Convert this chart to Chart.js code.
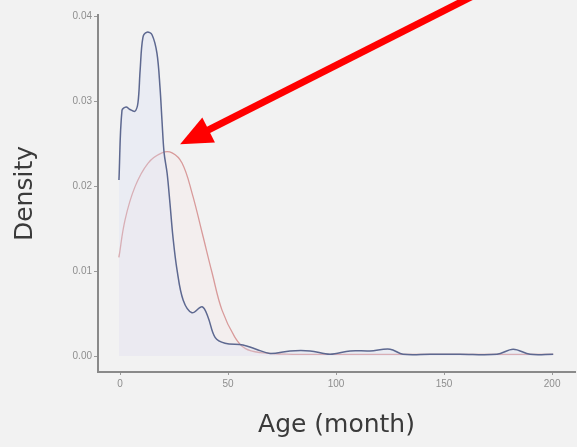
<!DOCTYPE html>
<html>
<head>
<meta charset="utf-8">
<script src="https://cdn.jsdelivr.net/npm/chart.js@4.4.0/dist/chart.umd.min.js"></script>
<style>
  html, body { margin: 0; padding: 0; background: #f2f2f2; }
  #wrap { width: 577px; height: 447px; }
</style>
</head>
<body>
<div id="wrap"><canvas id="chart"></canvas></div>
<script>
// observed density (blue)
const blueAge = [-0.5, 0.9, 2.8, 4.6, 6.9, 8.3, 9.3, 10.6, 12.5, 14.8, 17.1, 18.5, 19.4, 20.4, 21.8, 23.1, 24.5, 26.4, 29.2, 33.3, 38.0, 40.7, 44.0, 48.6, 56.9, 63, 69.4, 78.7, 88.0, 97.2, 106.5, 115.7, 125.0, 131.0, 143.5, 157.4, 174.5, 182.0, 189.8, 200.5];
const blueDensity = [0.0207, 0.0289, 0.0293, 0.0290, 0.0288, 0.0298, 0.0336, 0.0375, 0.0381, 0.0378, 0.0356, 0.0316, 0.0278, 0.0239, 0.0215, 0.0180, 0.0140, 0.0101, 0.0066, 0.0051, 0.0058, 0.0046, 0.0022, 0.0015, 0.0013, 0.0008, 0.0003, 0.0006, 0.0006, 0.0002, 0.0006, 0.0006, 0.0008, 0.0002, 0.0002, 0.0002, 0.0002, 0.0008, 0.0002, 0.0002];

// fitted density (red)
const redAge = [-0.5, 2.3, 6.9, 13.0, 19.4, 24.1, 28.7, 33.3, 38.0, 42.6, 47.2, 53.2, 57.9, 65, 80, 100, 130, 160, 200.5];
const redDensity = [0.0116, 0.0160, 0.0199, 0.0227, 0.0239, 0.0239, 0.0227, 0.0192, 0.0145, 0.0098, 0.0054, 0.0022, 0.0009, 0.0004, 0.0002, 0.0002, 0.0002, 0.0002, 0.0002];

const xTicks = [0, 50, 100, 150, 200];
const yTicks = [0, 0.01, 0.02, 0.03, 0.04];
const yTickLabels = ['0.00', '0.01', '0.02', '0.03', '0.04'];

// arrow points at the peak of the fitted curve
const arrowTip = { age: 27.8, density: 0.0249 };

const toXY = (xs, ys) => xs.map((x, i) => ({ x: x, y: ys[i] }));

const arrowPlugin = {
  id: 'arrow',
  afterDraw(chart) {
    const ctx = chart.ctx;
    const tx = chart.scales.x.getPixelForValue(arrowTip.age);
    const ty = chart.scales.y.getPixelForValue(arrowTip.density);
    const sx = tx + 296, sy = ty - 150;
    const ang = Math.atan2(ty - sy, tx - sx);
    const headLen = 32, headW = 14;
    const bx = tx - headLen * Math.cos(ang), by = ty - headLen * Math.sin(ang);
    ctx.save();
    ctx.strokeStyle = '#ff0000';
    ctx.fillStyle = '#ff0000';
    ctx.lineWidth = 7;
    ctx.beginPath();
    ctx.moveTo(sx, sy);
    ctx.lineTo(bx + 4 * Math.cos(ang), by + 4 * Math.sin(ang));
    ctx.stroke();
    ctx.beginPath();
    ctx.moveTo(tx, ty);
    ctx.lineTo(bx + headW * Math.sin(ang), by - headW * Math.cos(ang));
    ctx.lineTo(bx - headW * Math.sin(ang), by + headW * Math.cos(ang));
    ctx.closePath();
    ctx.fill();
    ctx.restore();
  }
};

new Chart(document.getElementById('chart'), {
  type: 'scatter',
  data: {
    datasets: [
      {
        label: 'observed',
        data: toXY(blueAge, blueDensity),
        showLine: true,
        borderColor: '#5d6890',
        backgroundColor: 'rgba(215,222,245,0.3)',
        fill: 'origin',
        borderWidth: 1.5,
        pointRadius: 0,
        tension: 0.35
      },
      {
        label: 'fitted',
        data: toXY(redAge, redDensity),
        showLine: true,
        borderColor: '#d89a9a',
        backgroundColor: 'rgba(250,225,225,0.2)',
        fill: 'origin',
        borderWidth: 1.3,
        pointRadius: 0,
        tension: 0.4
      }
    ]
  },
  options: {
    responsive: true,
    maintainAspectRatio: false,
    animation: false,
    layout: { padding: { top: 15, right: 2, left: 0, bottom: 0 } },
    plugins: { legend: { display: false }, tooltip: { enabled: false } },
    scales: {
      x: {
        type: 'linear',
        min: -10.2,
        max: 210.6,
        afterBuildTicks: (axis) => { axis.ticks = xTicks.map(v => ({ value: v })); },
        afterFit: (axis) => { axis.height = 75; },
        grid: { display: true, drawOnChartArea: false, drawTicks: true, tickLength: 3, color: '#9a9a9a' },
        border: { color: '#8a8a8a', width: 2 },
        ticks: { color: '#8e8e8e', font: { family: 'Liberation Sans', size: 10 }, padding: 3, maxRotation: 0 },
        title: { display: true, text: 'Age (month)', color: '#3a3a3a', font: { family: 'DejaVu Sans', size: 25 }, padding: { top: 2, bottom: 7 } }
      },
      y: {
        type: 'linear',
        min: -0.00188,
        max: 0.04012,
        afterBuildTicks: (axis) => { axis.ticks = yTicks.map(v => ({ value: v })); },
        afterFit: (axis) => { axis.width = 98; },
        grid: { display: true, drawOnChartArea: false, drawTicks: true, tickLength: 4, color: '#9a9a9a' },
        border: { color: '#8a8a8a', width: 2 },
        ticks: {
          color: '#8e8e8e',
          font: { family: 'Liberation Sans', size: 10 },
          padding: 2,
          callback: (v) => yTickLabels[yTicks.indexOf(v)]
        },
        title: { display: true, text: 'Density', color: '#3a3a3a', font: { family: 'DejaVu Sans', size: 25 }, padding: { top: 10, bottom: 0 } }
      }
    }
  },
  plugins: [arrowPlugin]
});
</script>
</body>
</html>
